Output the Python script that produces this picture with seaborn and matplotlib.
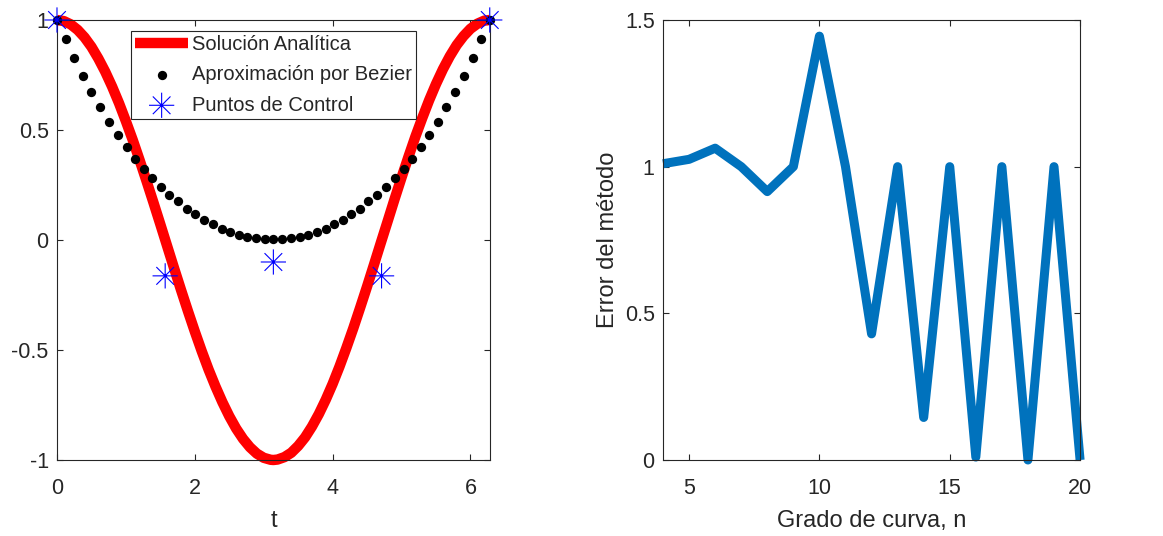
import matplotlib
matplotlib.use("Agg")
import matplotlib.pyplot as plt
from matplotlib.path import Path
import pandas as pd
import seaborn as sns

# analytic solution
t_exact = [0.0, 0.1, 0.2, 0.3, 0.4, 0.5, 0.6, 0.7, 0.8, 0.9, 1.0, 1.1, 1.2, 1.3, 1.4,
           1.5, 1.6, 1.7, 1.8, 1.9, 2.0, 2.1, 2.2, 2.3, 2.4, 2.5, 2.6, 2.7, 2.8, 2.9,
           3.0, 3.1, 3.14, 3.2, 3.3, 3.4, 3.5, 3.6, 3.7, 3.8, 3.9, 4.0, 4.1, 4.2, 4.3,
           4.4, 4.5, 4.6, 4.7, 4.8, 4.9, 5.0, 5.1, 5.2, 5.3, 5.4, 5.5, 5.6, 5.7, 5.8,
           5.9, 6.0, 6.1, 6.2, 6.28]
y_exact = [1.0, 0.995, 0.98, 0.955, 0.921, 0.878, 0.825, 0.765, 0.697, 0.622, 0.54,
           0.454, 0.362, 0.267, 0.17, 0.071, -0.029, -0.129, -0.227, -0.323, -0.416,
           -0.505, -0.589, -0.666, -0.737, -0.801, -0.857, -0.904, -0.942, -0.971,
           -0.99, -0.999, -1.0, -0.998, -0.987, -0.967, -0.936, -0.897, -0.848, -0.791,
           -0.726, -0.654, -0.575, -0.49, -0.401, -0.307, -0.211, -0.112, -0.012,
           0.087, 0.187, 0.284, 0.378, 0.469, 0.554, 0.635, 0.709, 0.776, 0.835,
           0.886, 0.927, 0.96, 0.983, 0.997, 1.0]

# bezier approximation (black dots)
t_bezier = [0, 0.13, 0.25, 0.38, 0.50, 0.63, 0.75, 0.88, 1.01, 1.13, 1.26, 1.38, 1.51,
            1.63, 1.76, 1.88, 2.01, 2.14, 2.26, 2.39, 2.51, 2.64, 2.76, 2.89, 3.02, 3.14,
            3.27, 3.39, 3.52, 3.64, 3.77, 3.90, 4.02, 4.15, 4.27, 4.40, 4.52, 4.65, 4.78,
            4.90, 5.03, 5.15, 5.28, 5.40, 5.53, 5.65, 5.78, 5.91, 6.03, 6.16, 6.28]
y_bezier = [1.0, 0.912, 0.826, 0.745, 0.673, 0.603, 0.538, 0.479, 0.424, 0.37, 0.321,
            0.28, 0.239, 0.206, 0.175, 0.143, 0.117, 0.091, 0.071, 0.052, 0.035, 0.023,
            0.015, 0.009, 0.006, 0.005, 0.006, 0.009, 0.015, 0.023, 0.035, 0.052, 0.071,
            0.091, 0.117, 0.143, 0.175, 0.206, 0.239, 0.28, 0.321, 0.37, 0.424, 0.479,
            0.538, 0.603, 0.673, 0.745, 0.826, 0.912, 1.0]

# control points
t_control = [0, 1.57, 3.14, 4.71, 6.28]
y_control = [1.0, -0.163, -0.1, -0.163, 1.0]

# error vs degree
grado = [4, 5, 6, 7, 8, 9, 10, 11, 12, 13, 14, 15, 16, 17, 18, 19, 20]
error = [1.01, 1.025, 1.063, 1.0, 0.915, 1.0, 1.445, 1.0, 0.43, 1.0, 0.145, 1.0, 0.01,
         1.0, 0.0, 1.0, 0.0]

sns.set_theme(style="ticks")
plt.rcParams['font.family'] = ['Liberation Sans', 'DejaVu Sans']
plt.rcParams['axes.unicode_minus'] = False

axis_col = "#262626"
fig = plt.figure(figsize=(11.63, 5.36), dpi=100)
ax1 = fig.add_axes([0.049, 0.1418, 0.3723, 0.8209])
ax2 = fig.add_axes([0.5701, 0.1418, 0.3586, 0.8209])

# asterisk marker like matlab's '*'
star = Path([(-1, 0), (1, 0), (0, -1), (0, 1), (-0.7, -0.7), (0.7, 0.7),
             (-0.7, 0.7), (0.7, -0.7)],
            [Path.MOVETO, Path.LINETO] * 4)

df_exact = pd.DataFrame({"t": t_exact, "y": y_exact})
df_bez = pd.DataFrame({"t": t_bezier, "y": y_bezier})
df_ctrl = pd.DataFrame({"t": t_control, "y": y_control})

sns.lineplot(data=df_exact, x="t", y="y", ax=ax1, color="red", linewidth=7.5,
             sort=False, label="Solución Analítica", solid_joinstyle="round",
             solid_capstyle="butt", clip_on=False)
sns.scatterplot(data=df_bez, x="t", y="y", ax=ax1, color="black", s=45,
                edgecolor="black", linewidth=0, label="Aproximación por Bezier",
                zorder=3, clip_on=False)
sns.scatterplot(data=df_ctrl, x="t", y="y", ax=ax1, marker=star, s=330,
                color="blue", edgecolor="blue", facecolor="none", linewidth=0.8,
                label="Puntos de Control", zorder=4, clip_on=False)

ax1.set_xlim(0, 6.2832)
ax1.set_ylim(-1, 1)
ax1.set_xticks([0, 2, 4, 6])
ax1.set_xticklabels(["0", "2", "4", "6"])
ax1.set_yticks([-1, -0.5, 0, 0.5, 1])
ax1.set_yticklabels(["-1", "-0.5", "0", "0.5", "1"])
ax1.set_xlabel("t", fontsize=17, color=axis_col, labelpad=8)
ax1.set_ylabel("")

leg = ax1.legend(loc="upper left", bbox_to_anchor=(0.171, 0.975), fontsize=14.5,
                 frameon=True, fancybox=False, framealpha=1, edgecolor=axis_col,
                 handlelength=2.6, labelspacing=0.55, borderpad=0.22,
                 handletextpad=0.2, borderaxespad=0)
leg.get_frame().set_linewidth(0.8)

df_err = pd.DataFrame({"n": grado, "err": error})
sns.lineplot(data=df_err, x="n", y="err", ax=ax2, color="#0072BD", linewidth=6.5,
             solid_joinstyle="round", solid_capstyle="butt", clip_on=False)
ax2.set_xlim(4, 20)
ax2.set_ylim(0, 1.5)
ax2.set_xticks([5, 10, 15, 20])
ax2.set_xticklabels(["5", "10", "15", "20"])
ax2.set_yticks([0, 0.5, 1, 1.5])
ax2.set_yticklabels(["0", "0.5", "1", "1.5"])
ax2.set_xlabel("Grado de curva, n", fontsize=17, color=axis_col, labelpad=8)
ax2.set_ylabel("Error del método", fontsize=17, color=axis_col)

for ax in (ax1, ax2):
    for sp in ax.spines.values():
        sp.set_visible(True)
        sp.set_color(axis_col)
        sp.set_linewidth(0.8)
    ax.tick_params(direction="in", length=4, width=0.8, colors=axis_col,
                   labelsize=15.5, top=True, right=True)
    ax.tick_params(axis="x", pad=13)
    ax.tick_params(axis="y", pad=6)
    ax.set_facecolor("white")

fig.savefig("out.png", dpi=100, facecolor="white")
